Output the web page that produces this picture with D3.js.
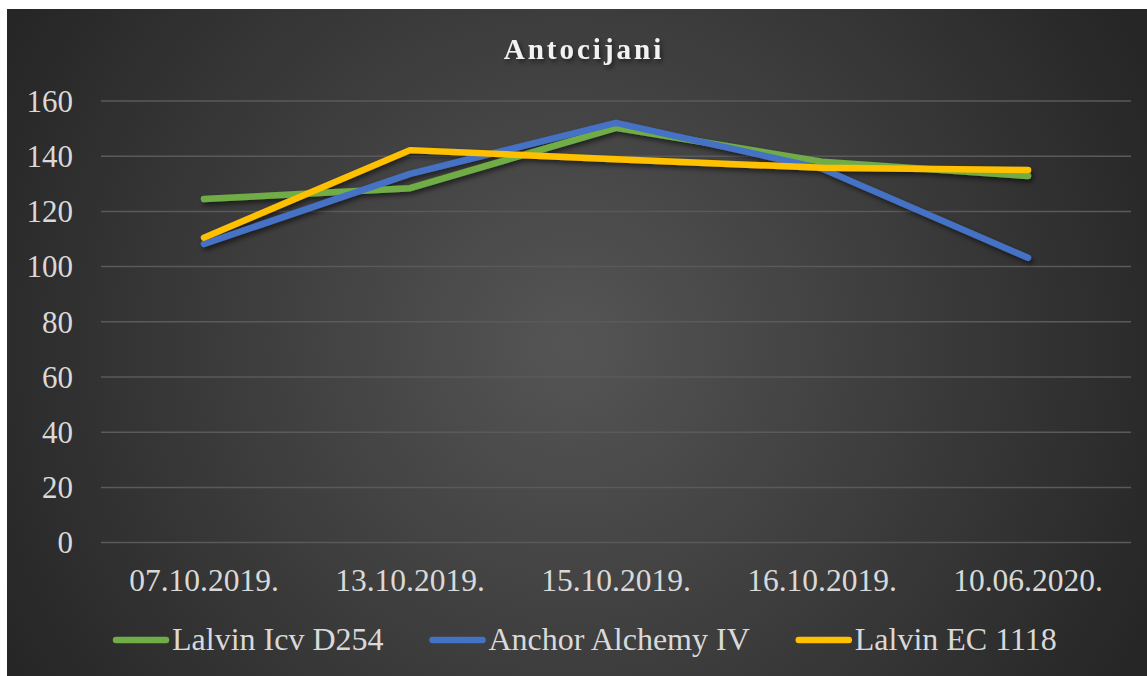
<!DOCTYPE html>
<html>
<head>
<meta charset="utf-8">
<script src="https://cdn.jsdelivr.net/npm/d3@7"></script>
<style>
    html, body { margin: 0; padding: 0; background: #ffffff; }
    svg { display: block; }
</style>
</head>
<body>
<div id="chart"></div>
<script>
const title = 'Antocijani'
const categories = ['07.10.2019.', '13.10.2019.', '15.10.2019.', '16.10.2019.', '10.06.2020.']
const yTicks = [0, 20, 40, 60, 80, 100, 120, 140, 160]

const seriesNames = ['Lalvin Icv D254', 'Anchor Alchemy IV', 'Lalvin EC 1118']
const lalvinIcv = [124.5, 128.4, 150.3, 138.0, 132.8]
const anchorAlchemy = [108.2, 133.6, 152.1, 135.5, 103.2]
const lalvinEc = [110.5, 142.2, 138.9, 135.8, 135.0]
const seriesColours = ['#70ad47', '#4472c4', '#ffc000']

const width = 1147
const height = 676
const font = '"Liberation Serif", "Times New Roman", serif'
const textColour = '#d9d9d9'

const plot = { left: 101, right: 1131, top: 101, bottom: 542.6 }

const svg = d3.select('#chart')
    .append('svg')
    .attr('width', width)
    .attr('height', height)

const defs = svg.append('defs')

const bg = defs.append('radialGradient')
    .attr('id', 'bg')
    .attr('gradientUnits', 'userSpaceOnUse')
    .attr('cx', 570).attr('cy', 345).attr('r', 640)
bg.append('stop').attr('offset', '0%').attr('stop-color', '#555555')
bg.append('stop').attr('offset', '100%').attr('stop-color', '#262626')

const shadow = defs.append('filter')
    .attr('id', 'shadow')
    .attr('x', '-10%').attr('y', '-20%')
    .attr('width', '120%').attr('height', '140%')
shadow.append('feDropShadow')
    .attr('dx', 2).attr('dy', 3)
    .attr('stdDeviation', 2.5)
    .attr('flood-color', '#000000')
    .attr('flood-opacity', 0.55)

svg.append('rect')
    .attr('x', 7).attr('y', 9)
    .attr('width', width - 7).attr('height', height - 9)
    .attr('fill', 'url(#bg)')

const x = d3.scaleBand()
    .domain(categories)
    .range([plot.left, plot.right])

const y = d3.scaleLinear()
    .domain([0, 160])
    .range([plot.bottom, plot.top])

// gridlines
svg.append('g')
    .selectAll('line')
    .data(yTicks)
    .join('line')
    .attr('x1', plot.left)
    .attr('x2', plot.right)
    .attr('y1', d => y(d))
    .attr('y2', d => y(d))
    .attr('stroke', '#5a5a5a')
    .attr('stroke-width', 1.5)

// y axis
svg.append('g')
    .attr('transform', `translate(${plot.left - 28}, 0)`)
    .attr('font-family', font)
    .call(d3.axisLeft(y).tickValues(yTicks).tickSize(0).tickPadding(0))
    .call(g => g.select('.domain').remove())
    .call(g => g.selectAll('text')
        .attr('fill', textColour)
        .style('font-family', font)
        .style('font-size', '31px')
        .attr('dy', '0.33em'))

// x axis
svg.append('g')
    .attr('transform', `translate(0, ${plot.bottom})`)
    .attr('font-family', font)
    .call(d3.axisBottom(x).tickSize(0).tickPadding(0))
    .call(g => g.select('.domain').remove())
    .call(g => g.selectAll('text')
        .attr('fill', textColour)
        .style('font-family', font)
        .style('font-size', '31.5px')
        .attr('dy', 0)
        .attr('y', 48.5))

// series
const series = [lalvinIcv, anchorAlchemy, lalvinEc].map((values, i) => ({
    name: seriesNames[i],
    colour: seriesColours[i],
    values
}))

const line = d3.line()
    .x((d, i) => x(categories[i]) + x.bandwidth() / 2)
    .y(d => y(d))

svg.append('g')
    .attr('filter', 'url(#shadow)')
    .selectAll('path')
    .data(series)
    .join('path')
    .attr('d', d => line(d.values))
    .attr('fill', 'none')
    .attr('stroke', d => d.colour)
    .attr('stroke-width', 6.5)
    .attr('stroke-linecap', 'round')
    .attr('stroke-linejoin', 'round')

// title
svg.append('text')
    .attr('x', 584)
    .attr('y', 59)
    .attr('text-anchor', 'middle')
    .attr('fill', '#f2f2f2')
    .attr('filter', 'url(#shadow)')
    .style('font-family', font)
    .style('font-weight', 'bold')
    .style('font-size', '29px')
    .style('letter-spacing', '3px')
    .text(title)

// legend
const symbolWidth = 56
const symbolGap = 3
const itemGap = 46
const legendY = 640
const legendStart = 113

const legend = svg.append('g')
const items = legend.selectAll('g')
    .data(series)
    .join('g')

items.append('line')
    .attr('x1', 3).attr('x2', symbolWidth - 3)
    .attr('y1', legendY).attr('y2', legendY)
    .attr('stroke', d => d.colour)
    .attr('stroke-width', 6.5)
    .attr('stroke-linecap', 'round')

items.append('text')
    .attr('x', symbolWidth + symbolGap)
    .attr('y', legendY + 10)
    .attr('fill', textColour)
    .style('font-family', font)
    .style('font-size', '32px')
    .text(d => d.name)

let offset = 0
const offsets = []
items.each(function () {
    offsets.push(offset)
    const w = d3.select(this).select('text').node().getComputedTextLength()
    offset += symbolWidth + symbolGap + w + itemGap
})
items.attr('transform', (d, i) => `translate(${legendStart + offsets[i]}, 0)`)
</script>
</body>
</html>
